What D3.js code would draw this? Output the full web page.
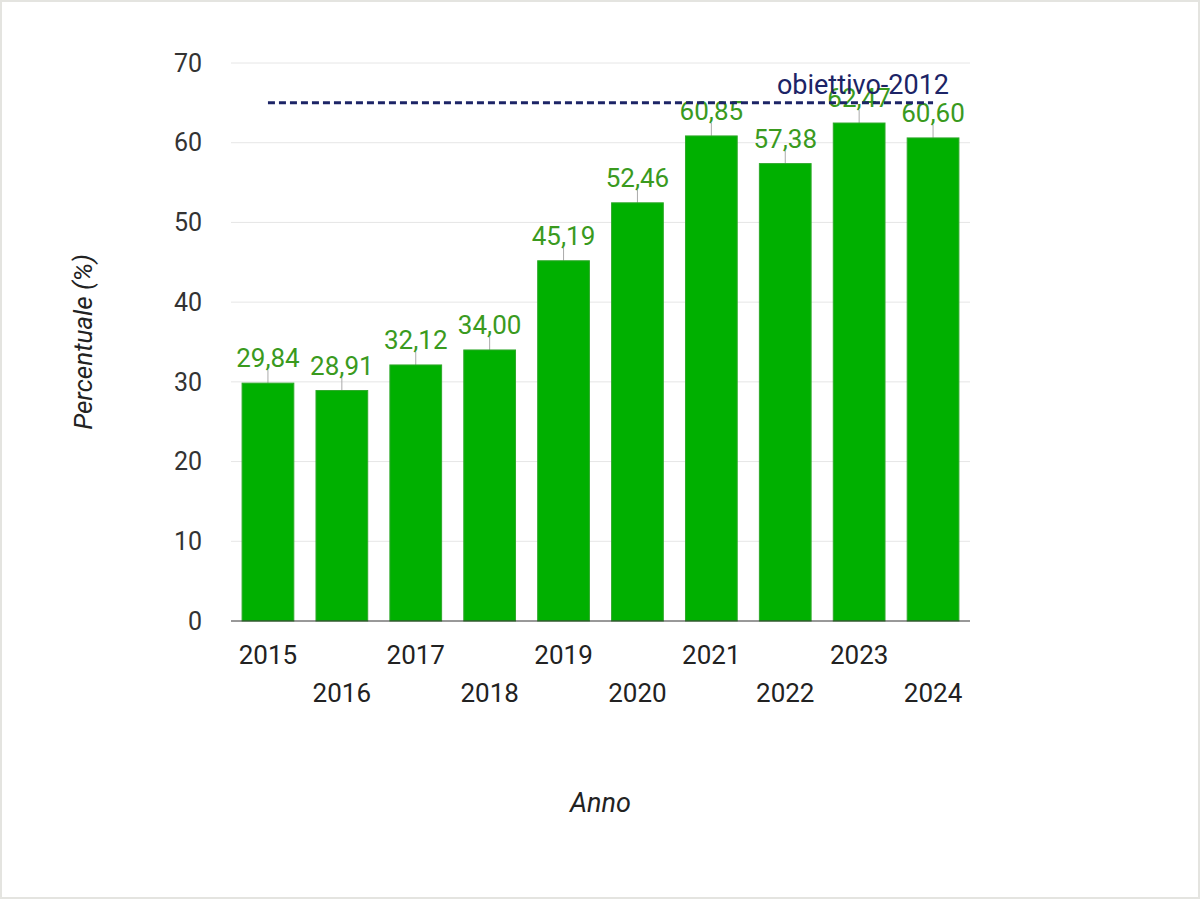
<!DOCTYPE html>
<html>
<head>
<meta charset="utf-8">
<script src="https://cdn.jsdelivr.net/npm/d3@7"></script>
<style>
  html, body { margin: 0; padding: 0; background: #fff; }
  #chart { width: 1200px; height: 899px; box-sizing: border-box; border: 2px solid #e4e4e0; }
  text { font-family: Roboto, "Noto Sans", sans-serif; }
</style>
</head>
<body>
<div id="chart"></div>
<script>
//***************** data *******************/
var years = ["2015","2016","2017","2018","2019","2020","2021","2022","2023","2024"];
var values = [29.84, 28.91, 32.12, 34.00, 45.19, 52.46, 60.85, 57.38, 62.47, 60.60];
var yTicks = [0, 10, 20, 30, 40, 50, 60, 70];
var target = 65;
var targetLabel = "obiettivo-2012";

//************* dimensions ***************/
var W = 1196, H = 895;
var margin = {left: 231, right: 226, top: 63, bottom: 274};
var width = W - margin.left - margin.right,
    height = H - margin.top - margin.bottom;

var svg = d3.select("#chart").append("svg")
    .attr("width", W).attr("height", H)
    .style("display", "block")
  .append("g")
    .attr("transform", "translate(" + (margin.left - 2) + "," + (margin.top - 2) + ")");

//***************** scales *******************/
var x = d3.scaleBand().domain(years).range([0, width]).paddingInner(0.3).paddingOuter(0.15);
var y = d3.scaleLinear().domain([0, 70]).range([height, 0]);

// gridlines
svg.append("g").selectAll("line")
  .data(yTicks.filter(function(d){ return d > 0; }))
  .enter().append("line")
    .attr("x1", 0).attr("x2", width)
    .attr("y1", function(d){ return y(d); })
    .attr("y2", function(d){ return y(d); })
    .attr("stroke", "#e6e6e6").attr("stroke-width", 1);

// y tick labels
svg.append("g").selectAll("text")
  .data(yTicks)
  .enter().append("text")
    .attr("x", -29)
    .attr("y", function(d){ return y(d); })
    .attr("dy", "0.35em")
    .attr("text-anchor", "end")
    .attr("font-size", "25px")
    .attr("fill", "#333")
    .text(function(d){ return d; });

//***************** bars *******************/
var data = years.map(function(d, i){ return {year: d, value: values[i]}; });

// connector lines
svg.append("g").selectAll("line")
  .data(data).enter().append("line")
    .attr("x1", function(d){ return x(d.year) + x.bandwidth()/2; })
    .attr("x2", function(d){ return x(d.year) + x.bandwidth()/2; })
    .attr("y1", function(d){ return y(d.value); })
    .attr("y2", function(d){ return y(d.value) - 13; })
    .attr("stroke", "#aaa").attr("stroke-width", 1);

svg.append("g").selectAll("rect")
  .data(data).enter().append("rect")
    .attr("x", function(d){ return x(d.year); })
    .attr("y", function(d){ return y(d.value); })
    .attr("width", x.bandwidth())
    .attr("height", function(d){ return height - y(d.value); })
    .attr("fill", "#00b000")
    .attr("stroke", "#2ea82a").attr("stroke-width", 1);

// x axis line
svg.append("line")
  .attr("x1", 0).attr("x2", width)
  .attr("y1", height).attr("y2", height)
  .attr("stroke", "#333").attr("stroke-width", 1);

// value labels
svg.append("g").selectAll("text")
  .data(data).enter().append("text")
    .attr("x", function(d){ return x(d.year) + x.bandwidth()/2; })
    .attr("y", function(d){ return y(d.value) - 16; })
    .attr("text-anchor", "middle")
    .attr("font-size", "26px")
    .attr("fill", "#3a9a1e")
    .text(function(d){ return d3.format(".2f")(d.value).replace(".", ","); });

// x labels (staggered)
svg.append("g").selectAll("text")
  .data(years).enter().append("text")
    .attr("x", function(d){ return x(d) + x.bandwidth()/2; })
    .attr("y", function(d, i){ return height + (i % 2 === 0 ? 43 : 81); })
    .attr("text-anchor", "middle")
    .attr("font-size", "26px")
    .attr("fill", "#222")
    .text(function(d){ return d; });

//***************** target line *******************/
var x0 = x(years[0]) + x.bandwidth()/2,
    x1 = x(years[years.length-1]) + x.bandwidth()/2;
svg.append("line")
  .attr("x1", x0).attr("x2", x1)
  .attr("y1", y(target)).attr("y2", y(target))
  .attr("stroke", "#1c2466").attr("stroke-width", 3)
  .attr("stroke-dasharray", "7,4");

svg.append("text")
  .attr("x", x1 + 16)
  .attr("y", y(target) - 9)
  .attr("text-anchor", "end")
  .attr("font-size", "27px")
  .attr("fill", "#1c2466")
  .text(targetLabel);

//***************** axis titles *******************/
svg.append("text")
  .attr("transform", "translate(" + (-139) + "," + (y(35) ) + ") rotate(-90)")
  .attr("text-anchor", "middle")
  .attr("font-size", "26px")
  .attr("font-style", "italic")
  .attr("fill", "#222")
  .text("Percentuale (%)");

svg.append("text")
  .attr("x", width/2)
  .attr("y", height + 191)
  .attr("text-anchor", "middle")
  .attr("font-size", "27px")
  .attr("font-style", "italic")
  .attr("fill", "#222")
  .text("Anno");
</script>
</body>
</html>
